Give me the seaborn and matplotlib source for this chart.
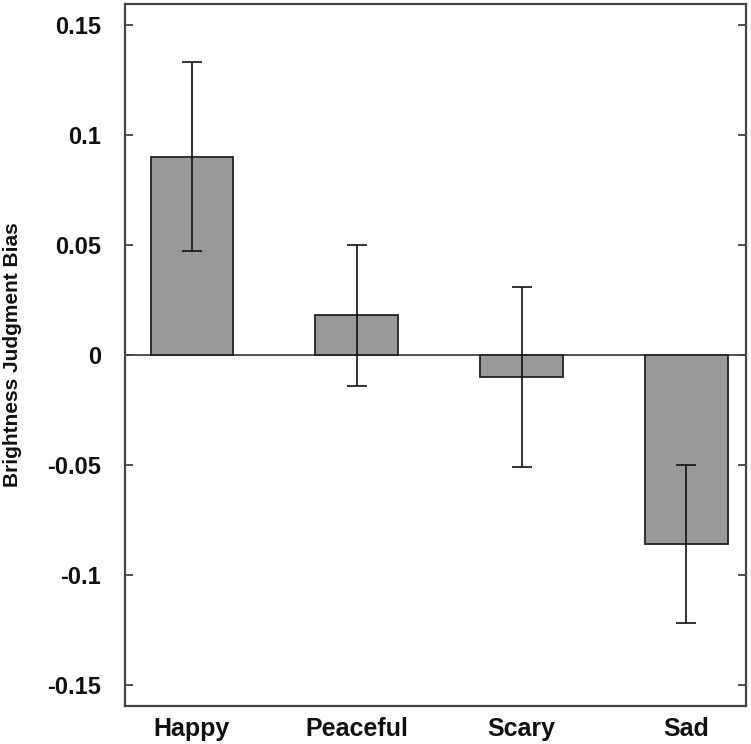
import matplotlib
matplotlib.use("Agg")
import matplotlib.pyplot as plt
import seaborn as sns
import pandas as pd

# values
emotions = ["Happy", "Peaceful", "Scary", "Sad"]
bias = [0.090, 0.018, -0.010, -0.086]
bias_err = [0.043, 0.032, 0.041, 0.036]
yticks = [-0.15, -0.1, -0.05, 0, 0.05, 0.1, 0.15]
ytick_labels = ["-0.15", "-0.1", "-0.05", "0", "0.05", "0.1", "0.15"]

df = pd.DataFrame({"emotion": emotions, "bias": bias})

sns.set_style("white")
plt.rcParams["font.family"] = ["Liberation Sans", "DejaVu Sans"]

fig = plt.figure(figsize=(7.51, 7.44), dpi=100)
ax = fig.add_axes([0.1664, 0.0515, 0.8266, 0.9431])

sns.barplot(data=df, x="emotion", y="bias", color="#999999", width=0.5,
            edgecolor="#222222", linewidth=1.3, saturation=1, errorbar=None, ax=ax)
ax.errorbar(range(len(emotions)), bias, yerr=bias_err, fmt="none",
            ecolor="#111111", elinewidth=1.2, capsize=7, capthick=1.2)
ax.axhline(0, color="#333333", linewidth=1.2, zorder=0.5)

ax.set_xlim(-0.405, 3.36)
ax.set_ylim(-0.1595, 0.1595)
ax.set_yticks(yticks)
ax.set_yticklabels(ytick_labels, fontsize=17, fontweight="bold", color="#111111")
ax.tick_params(axis="y", direction="in", length=6, width=1.3, color="#444444",
               pad=17, right=True, left=True)
ax.tick_params(axis="x", length=0, pad=8)
for lbl in ax.get_xticklabels():
    lbl.set_fontsize(18)
    lbl.set_fontweight("bold")
    lbl.set_color("#111111")
ax.set_xlabel("")
ax.set_ylabel("Brightness Judgment Bias", fontsize=15, fontweight="bold",
              color="#111111")
ax.yaxis.set_label_coords(-0.166, 0.5)
for sp in ax.spines.values():
    sp.set_visible(True)
    sp.set_color("#444444")
    sp.set_linewidth(1.6)

fig.savefig("out.png", dpi=100)
